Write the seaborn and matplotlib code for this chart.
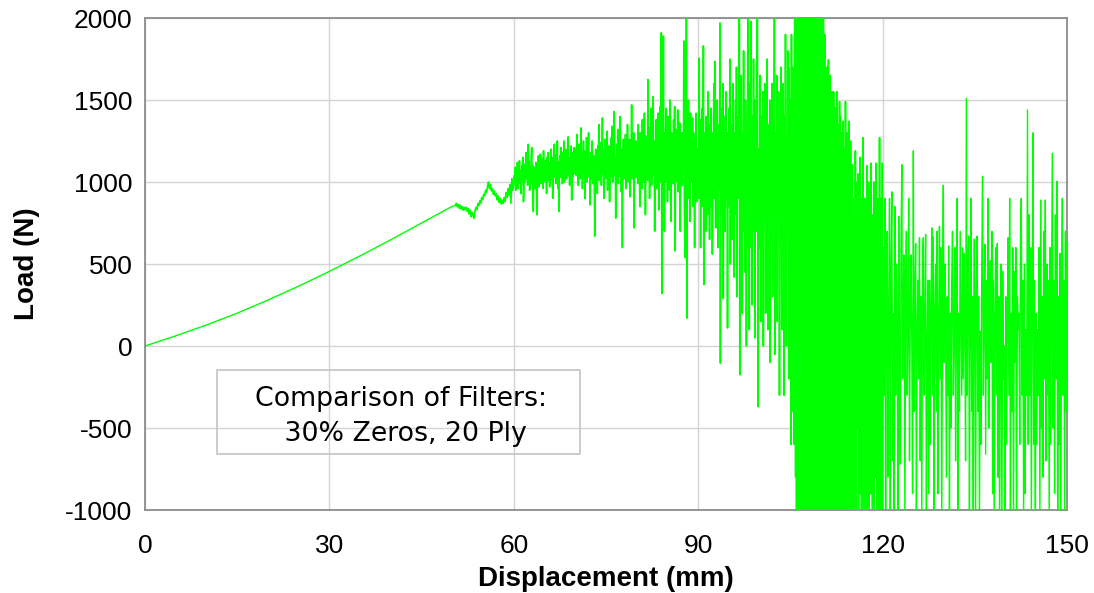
import numpy as np
import pandas as pd
import matplotlib
matplotlib.use("Agg")
import matplotlib.pyplot as plt
import seaborn as sns
from matplotlib.patches import Rectangle

# ---------------- data ----------------
# smooth loading part
disp_smooth = [0, 5, 10, 15, 20, 25, 30, 35, 40, 45, 50, 50.5]
load_smooth = [0, 62, 128, 200, 280, 365, 455, 550, 648, 750, 852, 858]

# noisy parts: (start mm, end mm) and loads
range_50_60 = (50.5, 60.0)
load_50_60 = [855, 870, 848, 862, 840, 858, 835, 850, 828, 845,
              830, 845, 822, 838, 805, 828, 790, 815, 800, 778,
              820, 845, 830, 868, 855, 885, 870, 905, 892, 925,
              915, 950, 935, 975, 1000, 960, 985, 945, 960, 925,
              945, 915, 930, 890, 915, 875, 900, 865, 890, 870,
              905, 880, 935, 905, 960, 920, 985, 870, 1020, 950]

range_60_70 = (60.0, 70.0)
load_60_70 = [980, 1040, 1010, 1090, 950, 1060, 1000, 1120, 960, 1050,
              1010, 1130, 990, 1070, 930, 1040, 1100, 1000, 1150, 880,
              1060, 1000, 1110, 1040, 1180, 1020, 1090, 980, 1230, 1060,
              1130, 950, 1070, 1010, 1150, 1210, 990, 1100, 820, 1040,
              1000, 1090, 960, 1120, 1030, 800, 1080, 1010, 1160, 970,
              1100, 1050, 1170, 990, 1080, 1020, 1140, 960, 1190, 1040,
              1110, 1000, 1130, 1070, 930, 1150, 1040, 1180, 1010, 1100,
              970, 1120, 1060, 1200, 1010, 1090, 900, 1150, 1050, 1230,
              1030, 1110, 990, 1170, 1060, 1250, 960, 1120, 820, 1080,
              1160, 1030, 1210, 1070, 1130, 990, 1180, 1060, 1250, 1000,
              1140, 1070, 1200, 1020, 1170, 1090, 1275, 1040, 1150, 980,
              1120, 1060, 1220, 890, 1100, 1030, 1180, 1070, 1210, 1050]

range_70_80 = (70.0, 80.0)
load_70_80 = [1100, 1200, 1040, 1290, 1080, 1160, 980, 1230, 1060, 1150,
              1020, 1330, 1090, 1180, 960, 1120, 1250, 1050, 1190, 900,
              1130, 1060, 1270, 1000, 1160, 1090, 1300, 1030, 1140, 860,
              1080, 1180, 1020, 1250, 1110, 990, 1160, 1060, 670, 1100,
              1200, 1050, 1150, 930, 1220, 1080, 1350, 1010, 1170, 1060,
              1240, 980, 1130, 1390, 1050, 1190, 900, 1100, 1260, 1020,
              1160, 1080, 1310, 950, 1140, 1060, 1220, 880, 1170, 1030,
              1270, 1090, 1340, 1000, 1180, 1120, 1430, 1040, 1150, 780,
              1110, 1230, 1060, 1320, 990, 1190, 1100, 1400, 1030, 1140,
              940, 1200, 600, 1080, 1260, 1020, 1170, 1090, 1290, 960,
              1210, 1120, 1350, 1000, 1180, 1080, 1260, 910, 1150, 1050,
              1470, 1020, 1220, 1100, 1300, 720, 1160, 1060, 1250, 1030]

range_80_90 = (80.0, 90.0)
load_80_90 = [1080, 1250, 990, 1350, 1050, 1180, 850, 1300, 1100, 1200,
              960, 1380, 1060, 1240, 1000, 1420, 1120, 800, 1280, 1050,
              1200, 1010, 1625, 1090, 1330, 900, 1180, 1060, 1450, 980,
              1150, 1040, 1520, 1100, 1250, 700, 1200, 1070, 1380, 960,
              1160, 1050, 1420, 830, 1250, 1100, 1460, 1000, 1910, 320,
              1200, 1050, 1890, 1120, 700, 1300, 1000, 1450, 1080, 1250,
              880, 1400, 1060, 1190, 950, 1500, 1100, 760, 1300, 1040,
              1230, 990, 1380, 1080, 1460, 580, 1250, 1100, 1320, 1000,
              1440, 940, 1200, 1080, 1360, 700, 1250, 1060, 1300, 980,
              1200, 1080, 1860, 880, 540, 1230, 1040, 2080, 170, 1350,
              1100, 1500, 900, 1280, 760, 1420, 1050, 1250, 1000, 1390,
              850, 1300, 1100, 600, 1250, 1000, 1420, 880, 1200, 1050]

range_90_100 = (90.0, 100.0)
load_90_100 = [1200, 900, 1755, 1000, 1380, 600, 1300, 1050, 1450, 850,
               1250, 1830, 375, 1300, 950, 1150, 700, 1400, 1000, 1250,
               800, 1550, 1050, 1350, 650, 1200, 950, 1450, 850, 1300,
               560, 1250, 1000, 1600, 900, 1735, 1100, 720, 1300, 900,
               1500, 1050, 600, 1350, 950, 1200, 1970, -105, 1300, 800,
               1450, 1000, 1600, 290, 1250, 950, 1400, 700, 1150, 1550,
               900, 1300, 110, 1200, 1000, 1450, 850, 1750, 500, 1200,
               1050, 1350, 650, 1600, 950, 1250, 420, 1300, 1000, 1500,
               800, 1700, 300, 1250, 900, 1400, 1050, 2050, -175, 1350,
               750, 1650, 1000, 200, 1300, 950, 1800, 700, 1150, 450,
               1500, 1000, 0, 1350, 800, 2050, 600, 1200, 100, 1600,
               1000, 1980, 600, 1300, 250, 1400, 900, 1750, 700, 1200,
               50, 1500, 850, 1300, 700, 2050, 1000, -370, 1200, 800]

range_100_106 = (100.0, 106.0)
load_100_106 = [600, 1650, 900, 150, 1400, 1100, 900, 1550, 0, 1300,
                800, 1600, 1000, 200, 1450, 800, 1750, 500, 100, 1350,
                1100, 550, 1500, -100, 1250, 900, 650, 1600, 300, 1400,
                1000, 900, 2050, -50, 1300, 700, 500, 1650, 150, 1450,
                800, 1550, 1100, -300, 1200, 600, 1700, 900, 100, 1350,
                500, 1600, 1000, -300, 1400, 300, 1900, 700, 0, 1250,
                700, 1800, 1100, -200, 1695, 200, 1500, 900, -600, 1900,
                300, 1400, -400, 1700, 800, -600, 2100, 500, -800, 1800]

range_106_115 = (106.0, 115.0)
load_106_115 = [-1100, 2100, -900, 1900, -1100, 2100, -600, 2100, -1100, 1700,
                -1100, 2100, -1100, 2100, -800, 2100, -1100, 2100, -1100, 2100,
                -1100, 1800, -1100, 2100, -1100, 2100, -1000, 2100, -1100, 2100,
                -1100, 2100, -1100, 1900, -1100, 2100, -1100, 2100, -700, 2100,
                -1100, 2100, -1100, 2100, -1100, 2000, -1100, 2100, -1100, 2100,
                -1100, 2100, -900, 2100, -1100, 2100, -1100, 1900, -1100, 2100,
                -1100, 1800, -1100, 2100, -1100, 1600, -1100, 1900, -1000, 1430,
                -1100, 1700, -1100, 1500, -1100, 1745, -900, 1400, -1100, 1650,
                -1100, 1300, -1100, 1550, -1000, 1400, -1100, 1550, -700, 1300,
                -1100, 1450, -1100, 1200, -1100, 1550, -900, 1350, -1100, 1250,
                -1100, 1490, -1100, 1400, -800, 1100, -1100, 1300, -1100, 1370,
                -700, 1200, -1100, 1050, -1100, 1490, -850, 1000, -1100, 1300,
                -1100, 1200, -900, 1370, -1100, 1000, -700, 1250, -1100, 1100]

range_115_120 = (115.0, 120.0)
load_115_120 = [-1100, 1105, -300, 900, -1100, 700, 200, -800, 1190, -1100,
                600, -500, 1000, -200, 1050, -1100, 800, 100, -900, 1150,
                -600, 500, -1100, 900, -300, 1270, -1100, 700, -200, 900,
                -1100, 700, 200, -600, 1100, -1000, 400, -300, 1000, -1100,
                950, -200, 600, -900, 1115, -400, 300, -1100, 800, -500,
                1000, -1100, 200, 700, -800, 1115, -300, 500, -1100, 900,
                -700, 400, -1100, 1270, -200, 600, -1000, 900, -400, 1115]

range_120_135 = (120.0, 135.0)
load_120_135 = [-1100, 600, -300, 900, -1100, 300, 700, -800, 200, 900,
                -1100, 500, 940, -700, 200, -1100, 850, -300, 500, 200,
                -1100, 790, -200, -720, 600, 1105, -200, 300, 555, -1100,
                400, 700, -300, 100, 900, -700, 200, 555, 0, -900,
                1190, -400, 300, 625, -1100, 100, 400, -200, 660, -700,
                300, -1100, 500, 660, -300, 100, 680, -1100, 0, 400,
                -900, 400, -600, 200, 720, -300, 665, -1000, 200, 500,
                -400, 700, -900, 100, 730, -200, 600, -1100, 300, 980,
                -100, 500, 200, -800, 300, -300, 610, -1100, 200, -500,
                400, 700, -300, 100, 600, -700, 300, 900, -1100, 200,
                -400, 700, 200, -300, 600, -200, 565, 100, -700, 1510,
                -300, 500, 670, -1100, 200, 900, -400, 300, -1100, 650]

range_135_150 = (135.0, 150.0)
load_135_150 = [650, -1100, 300, 670, -400, 300, -1100, 90, -600, 500,
                1035, -300, 200, 620, -660, 400, -200, 900, -500, 300,
                520, -100, 700, -900, 400, -1100, 200, 600, -300, 625,
                -800, 300, -1250, 100, 500, -1100, 455, -200, 0, -1100,
                300, -600, 200, 660, -300, 900, -1100, 200, -400, 600,
                -1100, 455, -100, 600, -1230, 300, 100, 200, -600, 660,
                900, -300, 400, -1100, 500, -900, 100, -300, 1440, -600,
                800, -300, 600, -1100, 300, 1300, -600, 400, -1400, 200,
                -600, 100, -300, 600, -1100, 890, -500, 300, -800, 700,
                -200, 890, -700, 500, -300, 400, -1100, 600, -600, 300,
                1175, -500, 400, -900, 800, -200, 1005, -1100, 300, -600,
                565, -1100, 300, 900, -300, 400, -1100, 700, -400, 635]

x_ticks = [0, 30, 60, 90, 120, 150]
y_ticks = [-1000, -500, 0, 500, 1000, 1500, 2000]
x_label = "Displacement (mm)"
y_label = "Load (N)"
note_text = "Comparison of Filters:\n 30% Zeros, 20 Ply"

# ---------------- assemble ----------------
def build(segs, first_x, first_y, close_end):
    xs = [first_x]
    ys = [first_y]
    for k, ((a, b), vals) in enumerate(segs):
        n = len(vals)
        if close_end and k == len(segs) - 1:
            xx = np.linspace(a, b, n)
        else:
            xx = a + (b - a) * np.arange(n) / n
        xs.extend(xx.tolist())
        ys.extend(vals)
    return pd.DataFrame({"disp": xs, "load": ys})

early = [(range_50_60, load_50_60), (range_60_70, load_60_70),
         (range_70_80, load_70_80), (range_80_90, load_80_90),
         (range_90_100, load_90_100), (range_100_106, load_100_106),
         (range_106_115, load_106_115), (range_115_120, load_115_120)]
late = [(range_120_135, load_120_135), (range_135_150, load_135_150)]

df_smooth = pd.DataFrame({"disp": disp_smooth, "load": load_smooth})
df_early = build(early, disp_smooth[-1], load_smooth[-1], False)
df_late = build(late, df_early["disp"].iloc[-1], df_early["load"].iloc[-1], True)

# ---------------- plot ----------------
sns.set_theme(style="white")
plt.rcParams["font.family"] = ["Liberation Sans", "DejaVu Sans"]
plt.rcParams["axes.unicode_minus"] = False
plt.rcParams["text.color"] = "black"
plt.rcParams["axes.labelcolor"] = "black"

fig = plt.figure(figsize=(10.94, 5.93), dpi=100)
ax = fig.add_axes([145 / 1094, 1 - 510 / 593, 922 / 1094, 492 / 593])

sns.lineplot(data=df_smooth, x="disp", y="load", sort=False, estimator=None,
             color="#00ff00", linewidth=1.0, ax=ax, zorder=3)
sns.lineplot(data=df_early, x="disp", y="load", sort=False, estimator=None,
             color="#00ff00", linewidth=1.2, ax=ax, zorder=3)
sns.lineplot(data=df_late, x="disp", y="load", sort=False, estimator=None,
             color="#00ff00", linewidth=1.0, ax=ax, zorder=3)

ax.set_xlim(0, 150)
ax.set_ylim(-1000, 2000)
ax.set_xticks(x_ticks)
ax.set_yticks(y_ticks)
ax.grid(True, color="#d4d4d4", linewidth=1.0, zorder=0)
ax.set_axisbelow(True)
for s in ax.spines.values():
    s.set_color("#8c8c8c")
    s.set_linewidth(1.3)
ax.tick_params(axis="both", length=0, labelsize=19, colors="black")
ax.tick_params(axis="y", pad=9)
ax.tick_params(axis="x", pad=17)
ax.set_xlabel(x_label, fontsize=20, fontweight="bold", labelpad=6, color="black")
ax.set_ylabel(y_label, fontsize=20, fontweight="bold", labelpad=18, color="black")

# note box
ax.add_patch(Rectangle((72 / 922, 56 / 492), 363 / 922, 84 / 492,
                       transform=ax.transAxes, fill=False,
                       edgecolor="#c4c4c4", linewidth=1.2, zorder=4))
ax.text(256 / 922, 93.5 / 492, note_text, transform=ax.transAxes,
        ha="center", va="center", multialignment="center",
        fontsize=19.3, family=["DejaVu Sans"], color="black",
        linespacing=1.45, zorder=5)

fig.savefig("out.png", dpi=100)
